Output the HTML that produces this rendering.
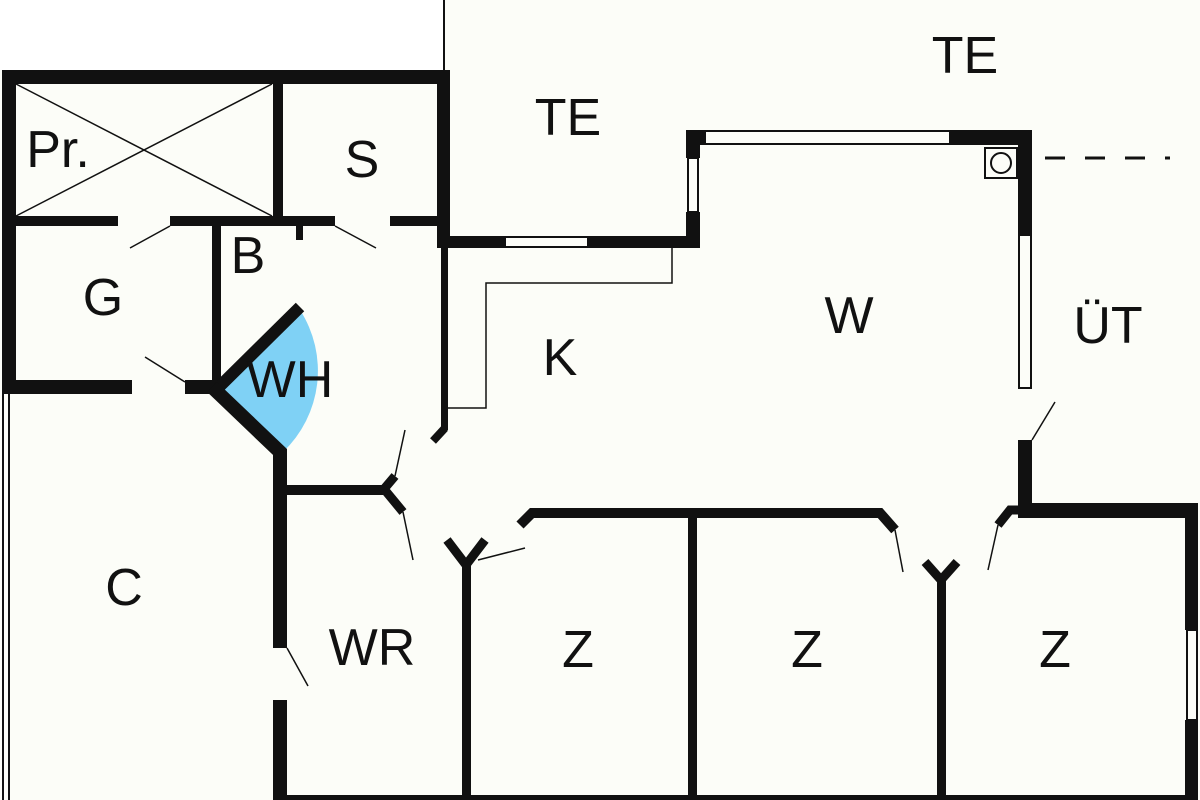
<!DOCTYPE html>
<html><head><meta charset="utf-8"><style>
html,body{margin:0;padding:0;background:#fcfdf8;}
svg{display:block}
text{font-family:"Liberation Sans",sans-serif;font-size:52px;fill:#111;text-anchor:middle;dominant-baseline:central}
</style></head><body>
<svg width="1200" height="800" viewBox="0 0 1200 800" xmlns="http://www.w3.org/2000/svg">
<rect width="1200" height="800" fill="#fcfdf8"/>
<rect x="0" y="0" width="444" height="70" fill="#fff"/>
<line x1="444" y1="0" x2="444" y2="70" stroke="#111" stroke-width="2"/>
<path d="M218,388 L300,310 A112,112 0 0 1 283,452 Z" fill="#7fd1f5"/>
<g fill="#111">
<rect x="2" y="70" width="448" height="14"/>
<rect x="2" y="70" width="14" height="324"/>
<rect x="437" y="70" width="13" height="178"/>
<rect x="273" y="84" width="10" height="136"/>
<rect x="16" y="216" width="102" height="10"/>
<rect x="170" y="216" width="165" height="10"/>
<rect x="390" y="216" width="47" height="10"/>
<rect x="296" y="226" width="7" height="14"/>
<rect x="212" y="226" width="9" height="166"/>
<rect x="2" y="380" width="130" height="14"/>
<rect x="185" y="380" width="33" height="14"/>
<line x1="300" y1="307" x2="218" y2="388" stroke="#111" stroke-width="12"/>
<polyline points="212,387 280,452 280,648" fill="none" stroke="#111" stroke-width="14"/>
<rect x="273" y="700" width="14" height="100"/>
<rect x="2" y="392" width="2" height="408"/>
<rect x="8" y="392" width="2" height="408"/>
<rect x="441" y="247" width="7" height="183"/>
<line x1="445" y1="428" x2="433" y2="441" stroke="#111" stroke-width="8"/>
<rect x="437" y="236" width="68" height="12"/>
<rect x="588" y="236" width="112" height="12"/>
<rect x="686" y="130" width="14" height="28"/>
<rect x="686" y="212" width="14" height="36"/>
<rect x="686" y="130" width="19" height="15"/>
<rect x="950" y="130" width="82" height="15"/>
<rect x="1018" y="130" width="14" height="105"/>
<rect x="1018" y="440" width="14" height="78"/>
<rect x="1018" y="503" width="180" height="15"/>
<rect x="1185" y="503" width="13" height="127"/>
<rect x="1185" y="720" width="13" height="80"/>
<rect x="286" y="485" width="97" height="10"/>
<polyline points="395,476 384,489 403,512" fill="none" stroke="#111" stroke-width="9"/>
<polyline points="447,540 466,565 485,540" fill="none" stroke="#111" stroke-width="9"/>
<rect x="462" y="565" width="9" height="235"/>
<polyline points="520,525 532,513 880,513 895,530" fill="none" stroke="#111" stroke-width="10"/>
<rect x="688" y="513" width="9" height="287"/>
<polyline points="925,562 941,580 957,562" fill="none" stroke="#111" stroke-width="9"/>
<rect x="937" y="575" width="9" height="225"/>
<polyline points="998,525 1010,510 1020,510" fill="none" stroke="#111" stroke-width="9"/>
<rect x="286" y="795" width="912" height="5"/>
</g>
<g fill="none" stroke="#111" stroke-width="2">
<rect x="505" y="237" width="83" height="10"/>
<rect x="688" y="158" width="10" height="54"/>
<rect x="705" y="131" width="245" height="13"/>
<rect x="1019" y="235" width="12" height="153"/>
<rect x="1187" y="630" width="10" height="90"/>
<rect x="985" y="148" width="32" height="30"/>
<circle cx="1001" cy="163" r="10"/>
</g>
<g stroke="#111" stroke-width="1.5" fill="none">
<line x1="16" y1="84" x2="272" y2="216"/>
<line x1="272" y1="84" x2="16" y2="216"/>
<polyline points="448,408 486,408 486,283 672,283 672,248"/>
<line x1="170" y1="226" x2="130" y2="248"/>
<line x1="335" y1="226" x2="376" y2="248"/>
<line x1="185" y1="382" x2="145" y2="357"/>
<line x1="405" y1="430" x2="395" y2="476"/>
<line x1="403" y1="512" x2="413" y2="560"/>
<line x1="478" y1="560" x2="525" y2="548"/>
<line x1="895" y1="530" x2="903" y2="572"/>
<line x1="998" y1="525" x2="988" y2="570"/>
<line x1="1032" y1="440" x2="1055" y2="402"/>
<line x1="287" y1="648" x2="308" y2="686"/>
<line x1="1045" y1="158" x2="1170" y2="158" stroke-width="3" stroke-dasharray="20,20"/>
</g>
<text x="965" y="56">TE</text>
<text x="568" y="118">TE</text>
<text x="58" y="150">Pr.</text>
<text x="362" y="160">S</text>
<text x="248" y="256">B</text>
<text x="103" y="298">G</text>
<text x="290" y="380">WH</text>
<text x="560" y="358">K</text>
<text x="849" y="316">W</text>
<text x="1108" y="326">ÜT</text>
<text x="124" y="588">C</text>
<text x="372" y="648">WR</text>
<text x="578" y="650">Z</text>
<text x="807" y="650">Z</text>
<text x="1055" y="650">Z</text>
</svg>
</body></html>
